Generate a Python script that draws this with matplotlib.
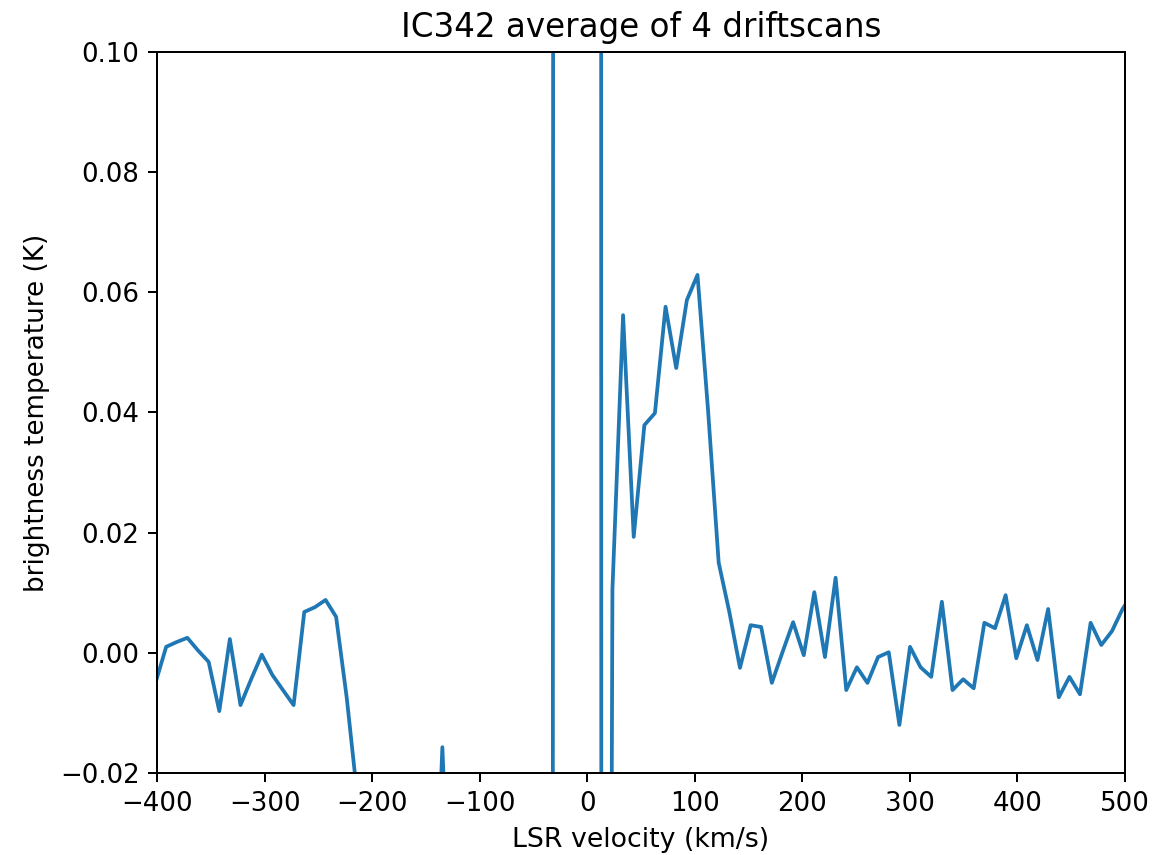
import matplotlib
matplotlib.use("Agg")
import matplotlib.pyplot as plt

# LSR velocity channels (km/s)
velocity = [
    -401.4, -391.5, -381.7, -371.8, -361.9, -352.0, -342.1, -332.3, -322.4, -312.5,
    -302.6, -292.7, -282.9, -273.0, -263.1, -253.2, -243.3, -233.5, -223.6, -213.7,
    -203.8, -193.9, -184.1, -174.2, -164.3, -154.4, -144.5, -134.7, -124.8, -114.9,
    -105.0, -95.1, -85.3, -75.4, -65.5, -55.6, -45.7, -35.9, -26.0, -16.1,
    -6.2, 3.7, 13.5, 23.4, 33.3, 43.2, 53.1, 62.9, 72.8, 82.7,
    92.6, 102.5, 112.3, 122.2, 132.1, 142.0, 151.9, 161.7, 171.6, 181.5,
    191.4, 201.3, 211.1, 221.0, 230.9, 240.8, 250.7, 260.5, 270.4, 280.3,
    290.2, 300.1, 309.9, 319.8, 329.7, 339.6, 349.5, 359.3, 369.2, 379.1,
    389.0, 398.9, 408.7, 418.6, 428.5, 438.4, 448.3, 458.1, 468.0, 477.9,
    487.8, 497.7, 507.5,
]

# averaged brightness temperature (K); channels near 0 km/s are the galactic HI
temperature = [
    -0.0050, 0.0010, 0.0018, 0.0025, 0.0004, -0.0015, -0.0097, 0.0023, -0.0087, -0.0044,
    -0.0003, -0.0037, -0.0062, -0.0087, 0.0068, 0.0076, 0.0088, 0.0060, -0.0075, -0.0240,
    -0.0450, -0.0700, -0.0900, -0.1000, -0.0800, -0.0700, -0.0600, -0.0157, -0.0600, -0.0800,
    -0.1200, -0.1800, -0.3000, -0.5000, -0.9000, -1.4000, -1.9000, -2.0000, 3.0000, 8.0000,
    12.000, 10.000, -0.5000, 0.0105, 0.0562, 0.0193, 0.0379, 0.0399, 0.0576, 0.0474,
    0.0587, 0.0629, 0.0404, 0.0150, 0.0068, -0.0025, 0.0046, 0.0043, -0.0050, 0.0001,
    0.0051, -0.0004, 0.0101, -0.0007, 0.0125, -0.0062, -0.0024, -0.0050, -0.0007, 0.0001,
    -0.0120, 0.0010, -0.0024, -0.0040, 0.0085, -0.0062, -0.0044, -0.0059, 0.0050, 0.0041,
    0.0096, -0.0009, 0.0046, -0.0012, 0.0073, -0.0074, -0.0040, -0.0069, 0.0050, 0.0013,
    0.0036, 0.0073, 0.0100,
]

fig, ax = plt.subplots(figsize=(6.4, 4.75), dpi=180)
fig.subplots_adjust(left=0.1363, right=0.9766, top=0.9392, bottom=0.0959)

ax.plot(velocity, temperature, color="#1f77b4", linewidth=1.5)

ax.set_xlim(-400, 500)
ax.set_ylim(-0.02, 0.10)
ax.tick_params(labelsize=10.4)
ax.set_title("IC342 average of 4 driftscans", fontsize=13)
ax.set_xlabel("LSR velocity (km/s)", fontsize=10.7)
ax.set_ylabel("brightness temperature (K)", fontsize=10.5)

fig.savefig("out.png", dpi=180)
